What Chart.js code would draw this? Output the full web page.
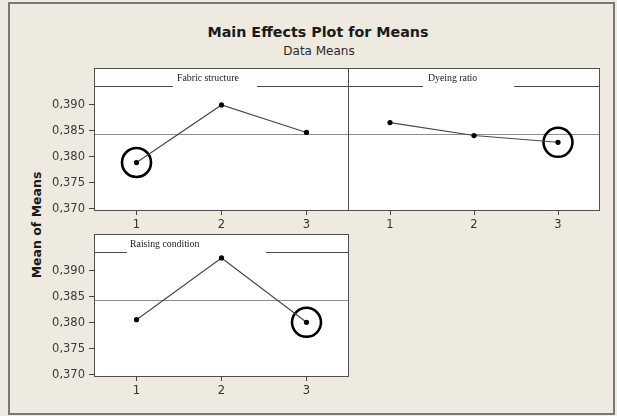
<!DOCTYPE html>
<html>
<head>
<meta charset="utf-8">
<script src="https://cdn.jsdelivr.net/npm/chart.js@4.4.0/dist/chart.umd.min.js"></script>
<style>
  html, body { margin: 0; padding: 0; }
  body {
    width: 617px; height: 416px; position: relative; overflow: hidden;
    background: #eeeae0; font-family: "DejaVu Sans", sans-serif;
  }
  #frame {
    position: absolute; left: 8px; top: 2px; width: 607px; height: 413px;
    border: 2px solid #787878; box-sizing: border-box;
  }
  #title {
    position: absolute; left: 118px; top: 23px; width: 400px; text-align: center;
    font: bold 14.3px "DejaVu Sans", sans-serif; line-height: 18px; color: #1a1a1a;
  }
  #subtitle {
    position: absolute; left: 119px; top: 44px; width: 400px; text-align: center;
    font: 12px "DejaVu Sans", sans-serif; line-height: 15px; color: #2a2a2a;
  }
  #ytitle {
    position: absolute; left: -33px; top: 217px; width: 140px; height: 16px;
    text-align: center; line-height: 16px; transform: rotate(-90deg);
    font: bold 12.5px "DejaVu Sans", sans-serif; color: #1a1a1a;
  }
  canvas { position: absolute; }
</style>
</head>
<body>
<div id="frame"></div>
<div id="title">Main Effects Plot for Means</div>
<div id="subtitle">Data Means</div>
<div id="ytitle">Mean of Means</div>
<canvas id="pFabric" width="310" height="180" style="left:40px;top:60px"></canvas>
<canvas id="pDyeing" width="262" height="180" style="left:340px;top:60px"></canvas>
<canvas id="pRaising" width="310" height="180" style="left:40px;top:226px"></canvas>

<script>
// Factor levels on the x axis
const levels = ['1', '2', '3'];

// Mean of means at each level of each factor
const fabricStructure  = [0.3789, 0.3900, 0.3847];
const dyeingRatio      = [0.3866, 0.3841, 0.3828];
const raisingCondition = [0.3806, 0.3925, 0.3801];

// Panel titles and the level marked with a ring in each panel
const factorNames  = ['Fabric structure', 'Dyeing ratio', 'Raising condition'];
const circledLevel = ['1', '3', '3'];

// Y axis ticks
const yTickValues = [0.370, 0.375, 0.380, 0.385, 0.390];

// Grand mean of all factor-level means (horizontal reference line)
const allMeans = fabricStructure.concat(dyeingRatio, raisingCondition);
const grandMean = allMeans.reduce((a, b) => a + b, 0) / allMeans.length;

Chart.defaults.font.family = '"DejaVu Sans", sans-serif';

const Y_MIN = 0.36956, Y_MAX = 0.39712;
const STRIP_H = 18;

function zeroPadding(scale) {
  scale.paddingLeft = 0; scale.paddingRight = 0;
  scale.paddingTop = 0; scale.paddingBottom = 0;
}

// Panel background, header strip, reference line and border
const panelPlugin = {
  id: 'panelDecor',
  beforeDraw(chart) {
    const a = chart.chartArea, ctx = chart.ctx;
    ctx.save();
    ctx.fillStyle = '#ffffff';
    ctx.fillRect(a.left, a.top, a.right - a.left, a.bottom - a.top);
    ctx.restore();
  },
  beforeDatasetsDraw(chart, args, opts) {
    const a = chart.chartArea, ctx = chart.ctx;
    ctx.save();
    // reference line at the grand mean
    const ym = Math.round(chart.scales.y.getPixelForValue(grandMean)) + 0.5;
    ctx.strokeStyle = '#8e8e8e';
    ctx.lineWidth = 1;
    ctx.beginPath();
    ctx.moveTo(a.left, ym); ctx.lineTo(a.right, ym);
    ctx.stroke();
    // header strip
    const yl = a.top + STRIP_H + 0.5;
    ctx.strokeStyle = '#4a4a4a';
    ctx.beginPath();
    ctx.moveTo(a.left, yl); ctx.lineTo(a.left + opts.gapStart, yl);
    ctx.moveTo(a.left + opts.gapEnd, yl); ctx.lineTo(a.right, yl);
    ctx.stroke();
    ctx.fillStyle = '#222222';
    ctx.font = '9.8px "Liberation Serif", serif';
    ctx.textBaseline = 'middle';
    ctx.textAlign = 'left';
    ctx.fillText(opts.label, a.left + opts.textX, a.top + 10.5);
    ctx.restore();
  },
  afterDraw(chart) {
    const a = chart.chartArea, ctx = chart.ctx;
    ctx.save();
    ctx.strokeStyle = '#505050';
    ctx.lineWidth = 1;
    ctx.strokeRect(a.left + 0.5, a.top + 0.5, a.right - a.left - 1, a.bottom - a.top - 1);
    ctx.restore();
  }
};

function makePanel(canvasId, name, values, circled, showY, pad, strip) {
  const ringData = levels.map((l, i) => (l === circled ? values[i] : null));
  return new Chart(document.getElementById(canvasId), {
    type: 'line',
    data: {
      labels: levels,
      datasets: [
        {
          label: name,
          data: values,
          borderColor: '#474747',
          borderWidth: 1.1,
          tension: 0,
          pointRadius: 2.6,
          pointBackgroundColor: '#000000',
          pointBorderWidth: 0
        },
        {
          label: name + ' (ring)',
          data: ringData,
          showLine: false,
          pointStyle: 'circle',
          pointRadius: 14.5,
          pointBackgroundColor: 'rgba(0,0,0,0)',
          pointBorderColor: '#000000',
          pointBorderWidth: 2.6,
          clip: false
        }
      ]
    },
    options: {
      responsive: false,
      animation: false,
      events: [],
      layout: { padding: pad, autoPadding: false },
      plugins: {
        legend: { display: false },
        tooltip: { enabled: false },
        panelDecor: { label: name, gapStart: strip.gapStart, gapEnd: strip.gapEnd, textX: strip.textX }
      },
      scales: {
        x: {
          type: 'category',
          offset: true,
          grid: { display: true, drawOnChartArea: false, drawTicks: true, tickLength: 4, offset: false, color: '#444444' },
          border: { display: false },
          ticks: { padding: 3, color: '#333333', font: { size: 11.5 } },
          afterFit(scale) { scale.height = 20; zeroPadding(scale); }
        },
        y: {
          type: 'linear',
          display: showY,
          min: Y_MIN,
          max: Y_MAX,
          afterBuildTicks(scale) { scale.ticks = yTickValues.map(v => ({ value: v })); },
          grid: { display: true, drawOnChartArea: false, drawTicks: true, tickLength: 5, color: '#444444' },
          border: { display: false },
          ticks: {
            padding: 4,
            color: '#3a3a3a',
            font: { size: 11.5 },
            callback: v => Number(v).toFixed(3).replace('.', ',')
          },
          afterFit(scale) { scale.width = showY ? 54 : 0; zeroPadding(scale); }
        }
      }
    },
    plugins: [panelPlugin]
  });
}

makePanel('pFabric', factorNames[0], fabricStructure, circledLevel[0], true,
  { left: 0, right: 1, top: 8, bottom: 9 }, { gapStart: 79, gapEnd: 163, textX: 83 });
makePanel('pDyeing', factorNames[1], dyeingRatio, circledLevel[1], false,
  { left: 8, right: 2, top: 8, bottom: 9 }, { gapStart: 75, gapEnd: 166, textX: 80 });
makePanel('pRaising', factorNames[2], raisingCondition, circledLevel[2], true,
  { left: 0, right: 1, top: 8, bottom: 9 }, { gapStart: 33, gapEnd: 172, textX: 36 });
</script>
</body>
</html>
